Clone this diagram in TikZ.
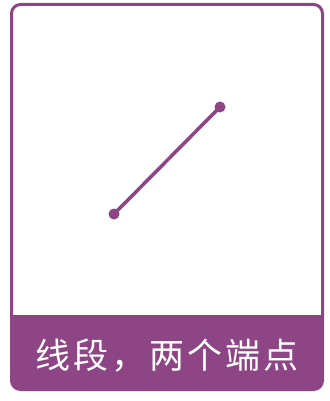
\documentclass[tikz,border=0pt]{standalone}
\usepackage{fontspec}
\newfontfamily\cjk{Noto Sans CJK SC}
\definecolor{plum}{RGB}{142,69,133}
\begin{document}
\begin{tikzpicture}[x=1pt,y=-1pt,
  card/.style={draw=plum,line width=3pt,rounded corners=9pt},
  band/.style={fill=plum},
  enddot/.style={circle,fill=plum,inner sep=0pt,minimum size=11pt},
  seg/.style={draw=plum,line width=3.5pt},
  caption/.style={text=white,font=\cjk\fontsize{35}{38}\selectfont,inner sep=0pt}]
\useasboundingbox (0,0) rectangle (329,401);
\fill[band,rounded corners=9pt] (11.5,315) rectangle (322.5,389.5);
\fill[band] (11.5,315) rectangle (322.5,340);
\draw[card] (11.5,4.5) rectangle (322.5,389.5);
\node[enddot] (a) at (114,214) {};
\node[enddot] (b) at (220,107) {};
\draw[seg] (a.center) -- (b.center);
\node[caption] (t) at (167,356) {线\hspace{3pt}段\hspace{3pt}，\hspace{3pt}两\hspace{3pt}个\hspace{3pt}端\hspace{3pt}点};
\end{tikzpicture}
\end{document}
